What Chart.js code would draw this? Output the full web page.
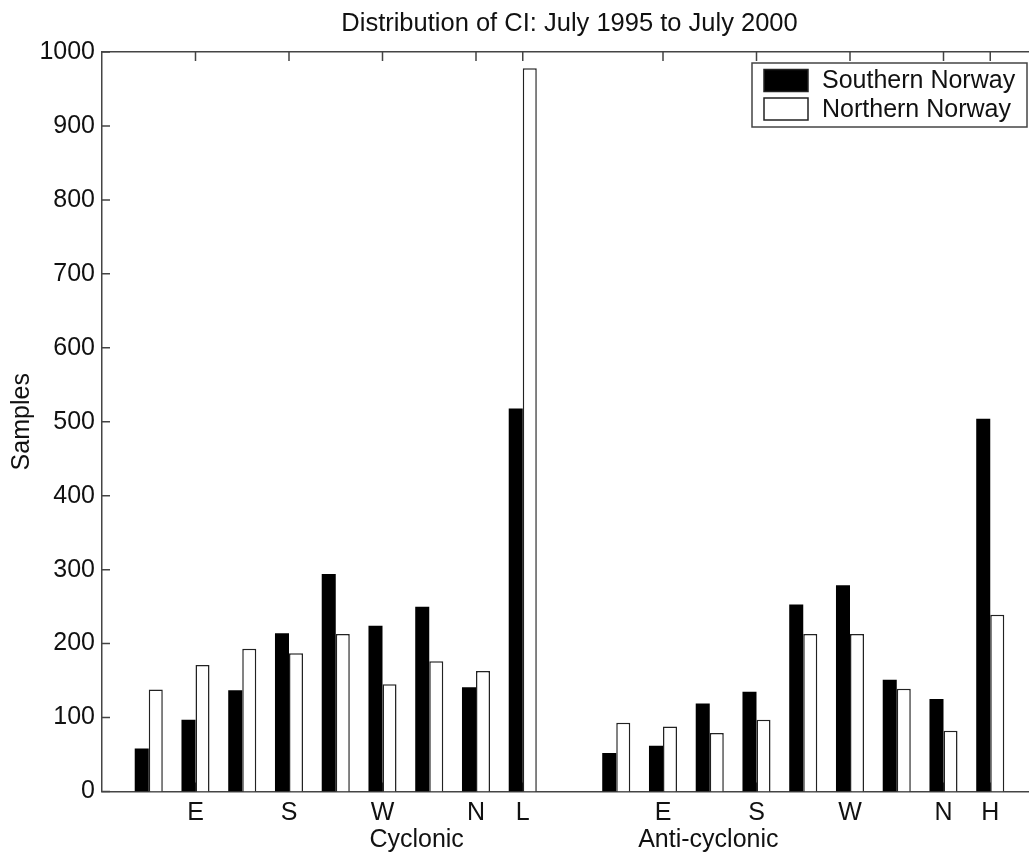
<!DOCTYPE html>
<html>
<head>
<meta charset="utf-8">
<script src="https://cdn.jsdelivr.net/npm/chart.js@4/dist/chart.umd.min.js"></script>
<style>
  html, body { margin: 0; padding: 0; background: #fff; overflow: hidden; }
  #wrap { width: 1029px; height: 852px; overflow: hidden; }
</style>
</head>
<body>
<div id="wrap"><canvas id="myChart" width="1045" height="852"></canvas></div>
<script>
// slots: empty, cyclonic NE..N + L, gap, anti-cyclonic NE..N + H, empty
var categories = ["", "NE", "E", "SE", "S", "SW", "W", "NW", "N", "L", "",
                  "NE", "E", "SE", "S", "SW", "W", "NW", "N", "H", ""];
var shownTicks = ["E", "S", "W", "N", "L", "H"];
var southern = [null, 58, 97, 137, 214, 294, 224, 250, 141, 518, null,
                52, 62, 119, 135, 253, 279, 151, 125, 504, null];
var northern = [null, 138, 171, 193, 187, 213, 145, 176, 163, 978, null,
                93, 88, 79, 97, 213, 213, 139, 82, 239, null];
var groupLabels = ["Cyclonic", "Anti-cyclonic"];
var groupAt = [6.73, 12.97];

var FONT = "'Liberation Sans', Arial, Helvetica, sans-serif";
var AXIS = "#444";

// matlab style ticks pointing into the plot
var inwardTicks = {
  id: "inwardTicks",
  beforeDatasetsDraw(chart) {
    const {ctx, chartArea: a, scales} = chart;
    ctx.save();
    ctx.strokeStyle = AXIS;
    ctx.lineWidth = 1.5;
    ctx.beginPath();
    scales.y.ticks.forEach((t, i) => {
      const py = scales.y.getPixelForTick(i);
      ctx.moveTo(a.left, py); ctx.lineTo(a.left + 8, py);
      ctx.moveTo(a.right, py); ctx.lineTo(a.right - 8, py);
    });
    scales.x.ticks.forEach((t, i) => {
      if (!shownTicks.includes(categories[t.value])) return;
      const px = scales.x.getPixelForTick(i);
      ctx.moveTo(px, a.top); ctx.lineTo(px, a.top + 9);
      ctx.moveTo(px, a.bottom); ctx.lineTo(px, a.bottom - 9);
    });
    ctx.stroke();
    ctx.restore();
  }
};

var groupText = {
  id: "groupText",
  afterDraw(chart) {
    const {ctx, scales} = chart;
    ctx.save();
    ctx.font = "25px " + FONT;
    ctx.fillStyle = "#111";
    ctx.textAlign = "center";
    ctx.textBaseline = "middle";
    groupLabels.forEach((g, i) => {
      ctx.fillText(g, scales.x.getPixelForValue(groupAt[i]), 840);
    });
    ctx.restore();
  }
};

var boxLegend = {
  id: "boxLegend",
  afterDraw(chart) {
    const {ctx, chartArea: a} = chart;
    const w = 275, h = 64;
    const left = a.right - 10 - w, top = a.top + 11;
    ctx.save();
    ctx.fillStyle = "#fff";
    ctx.fillRect(left, top, w, h);
    ctx.strokeStyle = AXIS;
    ctx.lineWidth = 1.5;
    ctx.strokeRect(left, top, w, h);
    ctx.font = "25px " + FONT;
    ctx.textBaseline = "middle";
    chart.data.datasets.forEach((ds, i) => {
      const cy = top + 17.5 + i * 28.5;
      ctx.fillStyle = ds.backgroundColor;
      ctx.fillRect(left + 12, cy - 11, 44, 22);
      ctx.strokeStyle = "#222";
      ctx.strokeRect(left + 12, cy - 11, 44, 22);
      ctx.fillStyle = "#111";
      ctx.fillText(ds.label, left + 70, cy + 1);
    });
    ctx.restore();
  }
};

new Chart("myChart", {
  type: "bar",
  data: {
    labels: categories,
    datasets: [{
      label: "Southern Norway",
      data: southern,
      backgroundColor: "#000",
      borderColor: "#000",
      borderWidth: 0,
      xAxisID: "x", yAxisID: "y"
    }, {
      label: "Northern Norway",
      data: northern,
      backgroundColor: "#fff",
      borderColor: "#222",
      borderWidth: 1.5,
      xAxisID: "x", yAxisID: "y"
    }]
  },
  options: {
    responsive: false,
    animation: false,
    devicePixelRatio: 1,
    layout: {padding: 0},
    datasets: {bar: {categoryPercentage: 0.6, barPercentage: 1.0}},
    plugins: {
      legend: {display: false},
      tooltip: {enabled: false},
      title: {
        display: true,
        fullSize: false,
        text: "Distribution of CI: July 1995 to July 2000",
        color: "#111",
        font: {family: FONT, size: 25.5, weight: "normal"},
        padding: {top: 9, bottom: 0}
      }
    },
    scales: {
      x: {
        type: "category",
        position: "bottom",
        offset: false,
        grid: {display: false, drawTicks: false},
        border: {display: true, color: AXIS, width: 1.5},
        ticks: {
          autoSkip: false, maxRotation: 0, padding: 7, color: "#111",
          font: {family: FONT, size: 25},
          callback: function (v) {
            var lab = categories[v];
            return shownTicks.includes(lab) ? lab : "";
          }
        },
        afterFit: function (s) { s.height = 60.5; }
      },
      x2: {
        type: "category",
        position: "top",
        offset: false,
        grid: {display: false, drawTicks: false},
        border: {display: true, color: AXIS, width: 1.5},
        ticks: {display: false},
        afterFit: function (s) { s.height = 12.4; }
      },
      y: {
        position: "left",
        min: 0, max: 1000,
        grid: {display: false, drawTicks: false},
        border: {display: true, color: AXIS, width: 1.5},
        ticks: {
          stepSize: 100, padding: 7, color: "#111", font: {family: FONT, size: 25},
          callback: function (v) { return String(v); }
        },
        title: {display: true, text: "Samples", color: "#111",
                font: {family: FONT, size: 25}, padding: {top: 7, bottom: 0}},
        afterFit: function (s) { s.width = 102; }
      },
      y2: {
        position: "right",
        min: 0, max: 1000,
        grid: {display: false, drawTicks: false},
        border: {display: true, color: AXIS, width: 1.5},
        ticks: {display: false},
        afterFit: function (s) { s.width = 8; }
      }
    }
  },
  plugins: [inwardTicks, groupText, boxLegend]
});
</script>
</body>
</html>
